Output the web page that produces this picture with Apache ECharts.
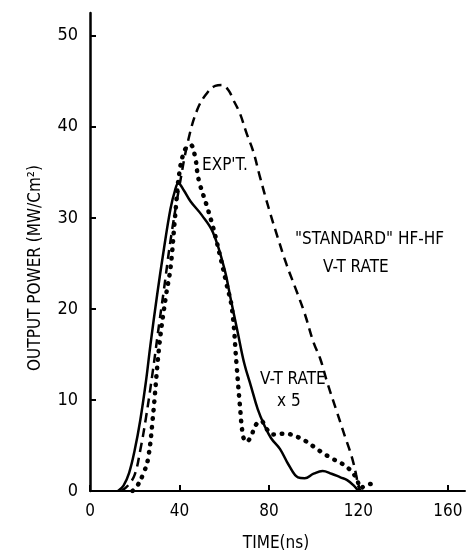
<!DOCTYPE html>
<html>
<head>
	<meta charset="utf-8">
	<script src="https://cdn.jsdelivr.net/npm/echarts@6/dist/echarts.min.js"></script>
	<style>
		html, body { margin: 0; padding: 0; background: #fff; }
		#main { width: 467px; height: 554px; }
	</style>
</head>
<body>
	<div id="main"></div>
	<script>
		// 横轴刻度 / 纵轴刻度
		var xTicks = [0, 40, 80, 120, 160];
		var yTicks = [0, 10, 20, 30, 40, 50];

		// V-T RATE x 5 (实线)
		var vtTime = [12.5, 15, 17.5, 20, 22.5, 25, 27, 30, 33, 36, 38, 39.5, 42, 45, 50, 55, 60, 63, 66, 69, 72, 75, 78, 81, 85, 89, 93, 96, 100, 104, 108, 112, 115, 118, 120];
		var vtPower = [0, 0.6, 2, 4.5, 7.8, 12, 16, 21.5, 26.5, 31, 33, 33.8, 33, 31.8, 30.3, 28.4, 24.5, 21, 17.5, 14, 11.5, 9, 7.2, 5.8, 4.6, 2.8, 1.5, 1.4, 1.9, 2.2, 1.9, 1.5, 1.2, 0.6, 0];

		// "STANDARD" HF-HF V-T RATE (虚线)
		var stdTime = [14, 17, 20, 22.5, 25, 28, 31, 33, 36, 40, 44, 48, 52, 56, 59, 62, 64, 67, 70, 73, 76, 80, 84, 88, 92, 96, 100, 103, 106, 110, 114, 117, 119, 120, 121];
		var stdPower = [0, 0.6, 1.8, 4.5, 8, 13, 18.5, 22, 27.5, 33.5, 38.6, 41.9, 43.6, 44.5, 44.6, 44, 43, 41.5, 39.3, 37.3, 34.5, 31, 27.8, 24.8, 22.2, 19.5, 16.3, 14.5, 12, 9, 6, 3.8, 1.8, 0.5, 0];

		// EXP'T. (点线)
		var expTime = [19, 21, 24, 26, 28, 31, 34, 36, 38, 40, 42.5, 45, 47, 48, 49, 52, 55, 58, 61, 63.5, 65.5, 67, 68.5, 70, 72, 74, 76.5, 79, 82, 86, 90, 94, 97, 101, 104, 108, 112, 115, 117.5, 119.5, 121, 123, 126];
		var expPower = [0, 0.5, 2, 3.6, 7.8, 16, 21.5, 24.5, 30, 35, 37.5, 38, 36.7, 35, 33.8, 31.5, 29, 26, 22.8, 20, 14, 9.5, 6, 5.4, 6, 7.2, 7.7, 6.8, 6.2, 6.3, 6.2, 5.8, 5.4, 4.7, 4.2, 3.6, 3.1, 2.6, 2, 1.2, 0.3, 0.6, 0.8];

		var font = "'Liberation Sans Narrow', 'DejaVu Sans Condensed', sans-serif";

		function pairs(xs, ys) {
			return xs.map(function (x, i) { return [x, ys[i]]; });
		}

		function label(text, x, y, align) {
			return {
				type: 'text',
				x: x,
				y: y,
				style: {
					text: text,
					fill: '#000',
					font: '17px ' + font,
					textAlign: align || 'left',
					textVerticalAlign: 'middle'
				}
			};
		}

		var chart = echarts.init(document.getElementById('main'));

		var option = {
			animation: false,
			backgroundColor: '#fff',
			grid: { left: 90, right: 2, top: 13, bottom: 63 },
			xAxis: {
				type: 'value',
				min: 0,
				max: 167.7,
				splitLine: { show: false },
				axisLine: { lineStyle: { color: '#000', width: 2 } },
				axisTick: { inside: true, length: 6, customValues: xTicks, lineStyle: { color: '#000', width: 2 } },
				axisLabel: { customValues: xTicks, margin: 12, color: '#000', fontSize: 17, fontFamily: font }
			},
			yAxis: {
				type: 'value',
				min: 0,
				max: 52.5,
				splitLine: { show: false },
				axisLine: { show: true, lineStyle: { color: '#000', width: 2.5 } },
				axisTick: { show: true, inside: true, length: 6, customValues: yTicks, lineStyle: { color: '#000', width: 2 } },
				axisLabel: { customValues: yTicks, margin: 12, color: '#000', fontSize: 18, fontFamily: font }
			},
			graphic: [
				label('TIME(ns)', 276, 544, 'center'),
				{
					type: 'text',
					x: 36,
					y: 268,
					rotation: Math.PI / 2,
					style: {
						text: 'OUTPUT POWER (MW/Cm²)',
						fill: '#000',
						font: '17px ' + font,
						textAlign: 'center',
						textVerticalAlign: 'middle'
					}
				},
				label("EXP'T.", 202, 166),
				label('"STANDARD" HF-HF', 295, 240),
				label('V-T RATE', 323, 268),
				label('V-T RATE', 260, 380),
				label('x 5', 277, 402)
			],
			series: [
				{
					name: 'V-T RATE x 5',
					type: 'line',
					data: pairs(vtTime, vtPower),
					smooth: 0.4,
					showSymbol: false,
					lineStyle: { color: '#000', width: 2.5 }
				},
				{
					name: 'STANDARD',
					type: 'line',
					data: pairs(stdTime, stdPower),
					smooth: 0.4,
					showSymbol: false,
					lineStyle: { color: '#000', width: 2.5, type: [9, 6] }
				},
				{
					name: "EXP'T.",
					type: 'line',
					data: pairs(expTime, expPower),
					smooth: 0.4,
					showSymbol: false,
					lineStyle: { color: '#000', width: 4.5, type: [0.5, 8], cap: 'round' }
				}
			]
		};

		chart.setOption(option);
	</script>
</body>
</html>
